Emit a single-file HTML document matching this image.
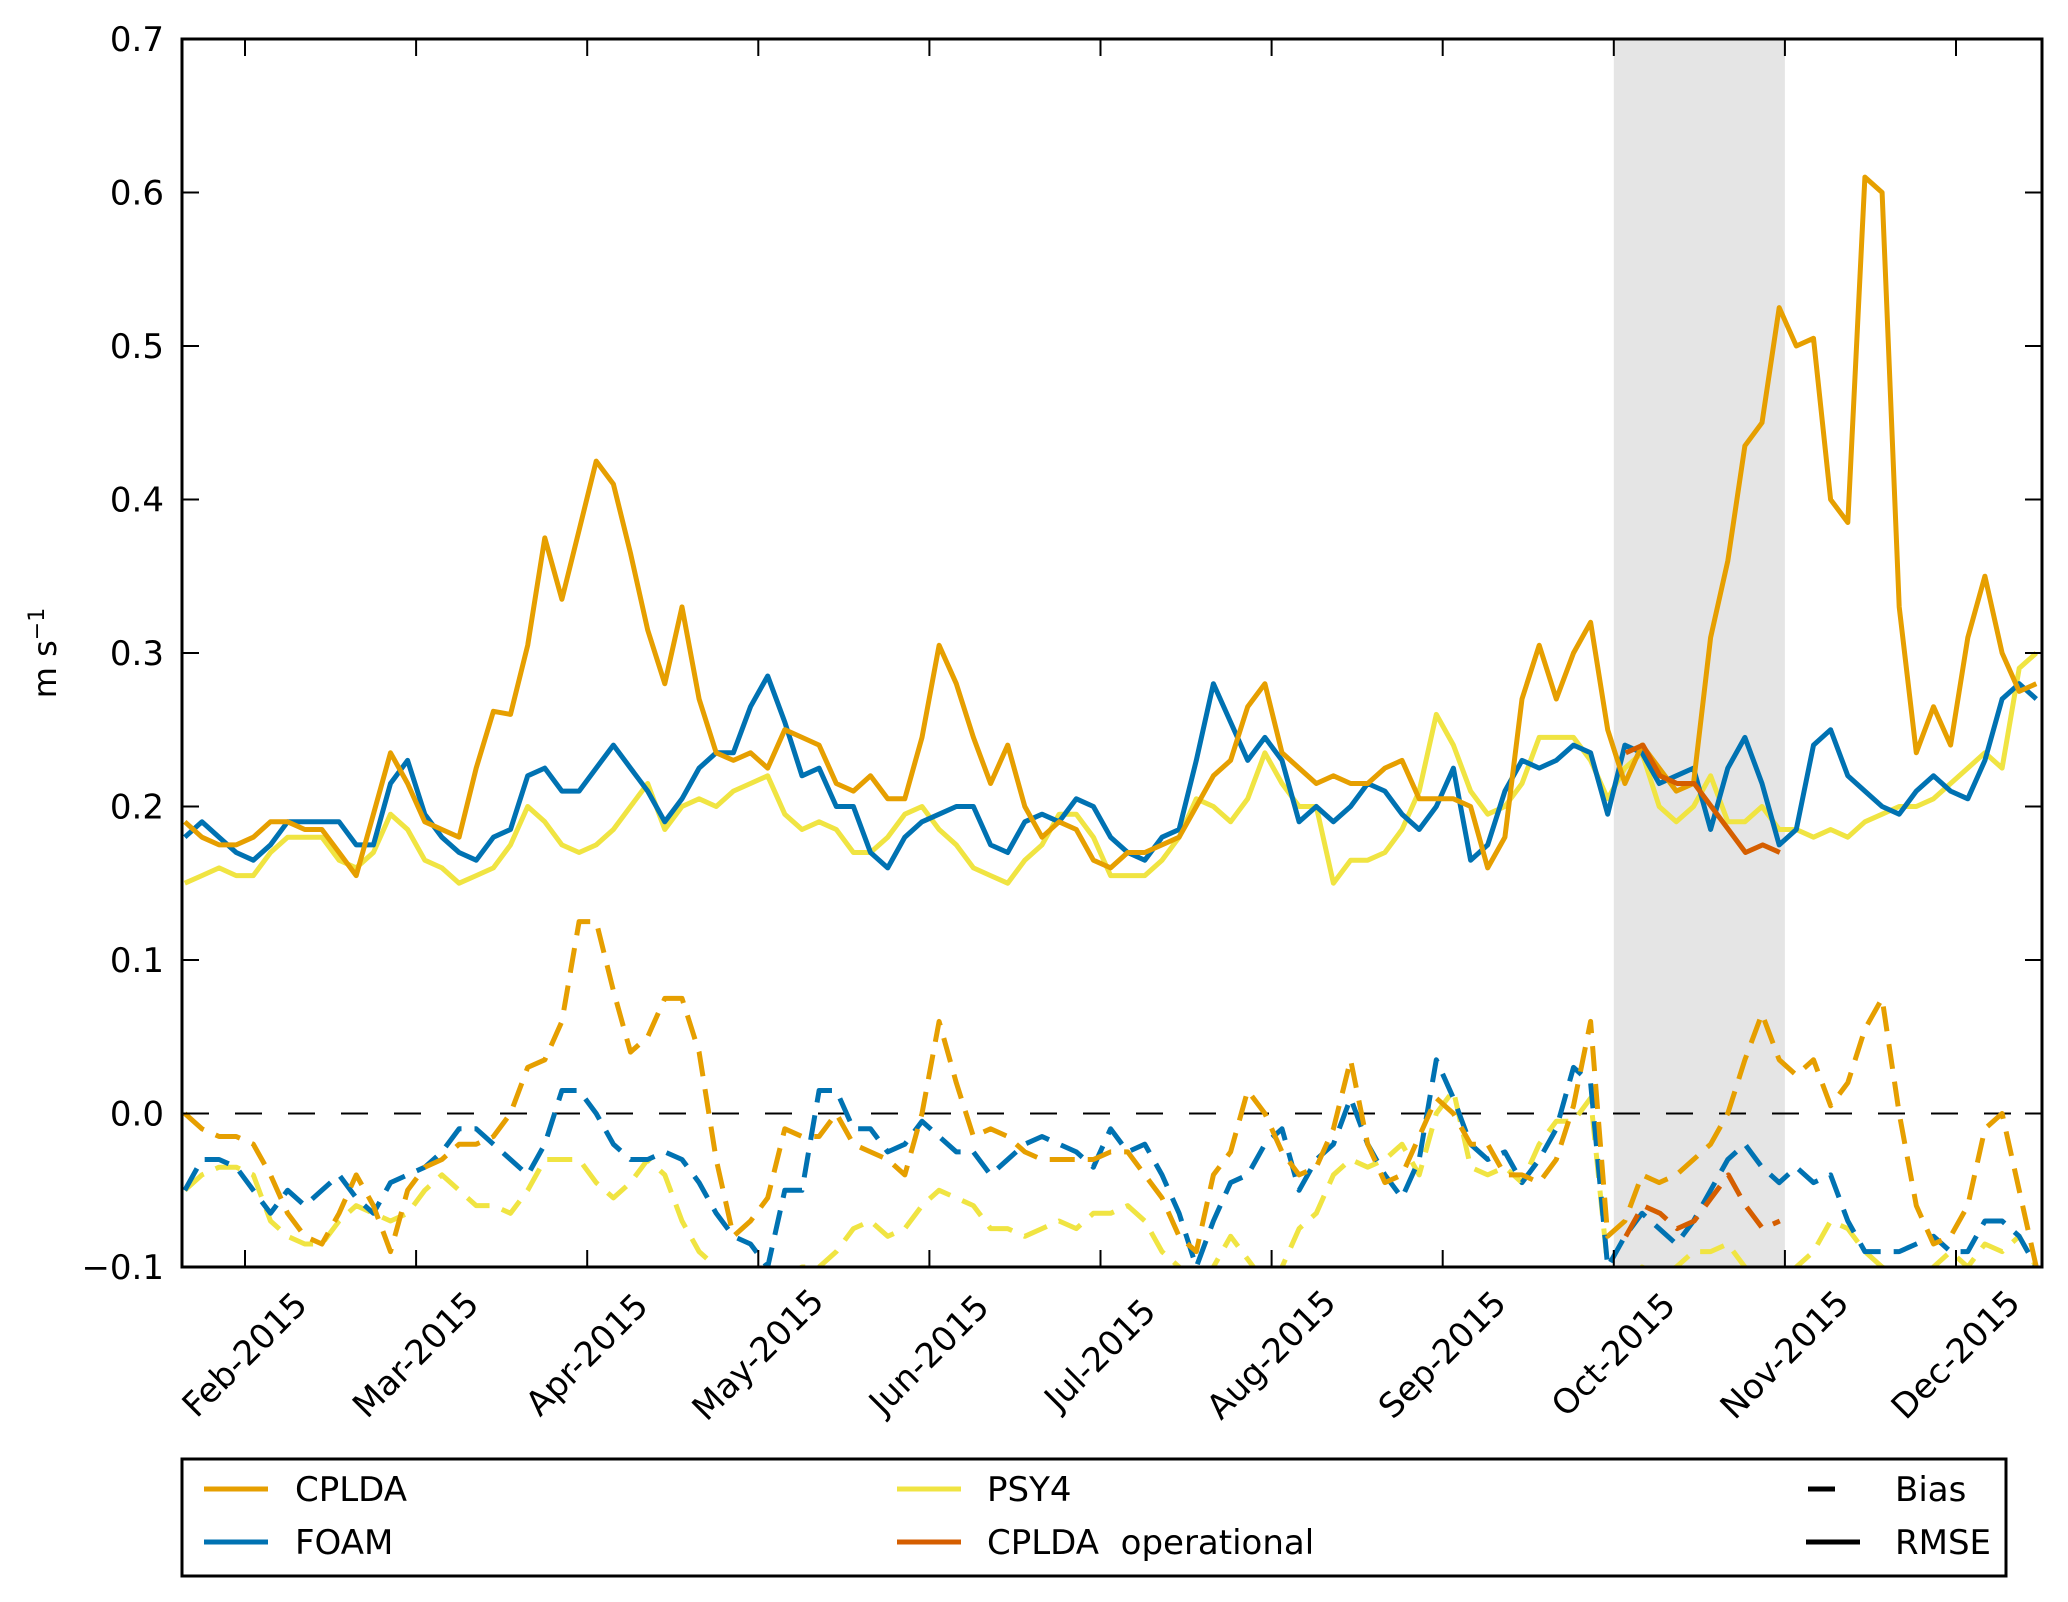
<!DOCTYPE html>
<html><head><meta charset="utf-8"><style>
html,body{margin:0;padding:0;background:#fff;}
svg{display:block;font-family:"DejaVu Sans","Liberation Sans",sans-serif;}
</style></head><body>
<svg id="chart" width="2068" height="1602" viewBox="0 0 2068 1602" xmlns="http://www.w3.org/2000/svg">
<defs><clipPath id="plotclip"><rect x="182" y="39" width="1860" height="1228"/></clipPath></defs>
<rect x="0" y="0" width="2068" height="1602" fill="#fff"/>
<g id="plot"></g>
<text transform="translate(56,653) rotate(-90)" text-anchor="middle" font-size="32">m s<tspan dy="-12" font-size="22">−1</tspan></text>
<g>
<rect x="182" y="1459" width="1824" height="117" fill="#fff" stroke="#000" stroke-width="3"/>
<line x1="204" y1="1489" x2="268" y2="1489" stroke="#E69F00" stroke-width="5"/>
<text x="295" y="1501" font-size="34">CPLDA</text>
<line x1="204" y1="1542" x2="268" y2="1542" stroke="#0072B2" stroke-width="5"/>
<text x="295" y="1554" font-size="34">FOAM</text>
<line x1="897" y1="1489" x2="961" y2="1489" stroke="#F0E442" stroke-width="5"/>
<text x="987" y="1501" font-size="34">PSY4</text>
<line x1="897" y1="1542" x2="961" y2="1542" stroke="#D55E00" stroke-width="5"/>
<text x="987" y="1554" font-size="34">CPLDA&#160; operational</text>
<line x1="1808" y1="1489" x2="1835" y2="1489" stroke="#000" stroke-width="5"/>
<text x="1895" y="1501" font-size="34">Bias</text>
<line x1="1806" y1="1542" x2="1860" y2="1542" stroke="#000" stroke-width="5"/>
<text x="1895" y="1554" font-size="34">RMSE</text>
</g>
</svg>
<script>
const monthLabels = ["Feb-2015","Mar-2015","Apr-2015","May-2015","Jun-2015","Jul-2015","Aug-2015","Sep-2015","Oct-2015","Nov-2015","Dec-2015"];
const yTicks = [-0.1,0.0,0.1,0.2,0.3,0.4,0.5,0.6,0.7];
const yTickLabels = ["\u22120.1","0.0","0.1","0.2","0.3","0.4","0.5","0.6","0.7"];
const shadeRange = [9, 10];
const cpldaRmse = [0.19,0.18,0.175,0.175,0.18,0.19,0.19,0.185,0.185,0.17,
0.155,0.195,0.235,0.215,0.19,0.185,0.18,0.225,0.262,0.26,
0.305,0.375,0.335,0.38,0.425,0.41,0.365,0.315,0.28,0.33,
0.27,0.235,0.23,0.235,0.225,0.25,0.245,0.24,0.215,0.21,
0.22,0.205,0.205,0.245,0.305,0.28,0.245,0.215,0.24,0.2,
0.18,0.19,0.185,0.165,0.16,0.17,0.17,0.175,0.18,0.2,
0.22,0.23,0.265,0.28,0.235,0.225,0.215,0.22,0.215,0.215,
0.225,0.23,0.205,0.205,0.205,0.2,0.16,0.18,0.27,0.305,
0.27,0.3,0.32,0.25,0.215,0.24,0.225,0.21,0.215,0.31,
0.36,0.435,0.45,0.525,0.5,0.505,0.40,0.385,0.61,0.60,
0.33,0.235,0.265,0.24,0.31,0.35,0.3,0.275,0.28];
const foamRmse = [0.18,0.19,0.18,0.17,0.165,0.175,0.19,0.19,0.19,0.19,
0.175,0.175,0.215,0.23,0.195,0.18,0.17,0.165,0.18,0.185,
0.22,0.225,0.21,0.21,0.225,0.24,0.225,0.21,0.19,0.205,
0.225,0.235,0.235,0.265,0.285,0.255,0.22,0.225,0.2,0.2,
0.17,0.16,0.18,0.19,0.195,0.2,0.2,0.175,0.17,0.19,
0.195,0.19,0.205,0.2,0.18,0.17,0.165,0.18,0.185,0.23,
0.28,0.255,0.23,0.245,0.23,0.19,0.2,0.19,0.2,0.215,
0.21,0.195,0.185,0.2,0.225,0.165,0.175,0.21,0.23,0.225,
0.23,0.24,0.235,0.195,0.24,0.235,0.215,0.22,0.225,0.185,
0.225,0.245,0.215,0.175,0.185,0.24,0.25,0.22,0.21,0.2,
0.195,0.21,0.22,0.21,0.205,0.23,0.27,0.28,0.27];
const psy4Rmse = [0.15,0.155,0.16,0.155,0.155,0.17,0.18,0.18,0.18,0.165,
0.16,0.17,0.195,0.185,0.165,0.16,0.15,0.155,0.16,0.175,
0.2,0.19,0.175,0.17,0.175,0.185,0.2,0.215,0.185,0.2,
0.205,0.2,0.21,0.215,0.22,0.195,0.185,0.19,0.185,0.17,
0.17,0.18,0.195,0.2,0.185,0.175,0.16,0.155,0.15,0.165,
0.175,0.195,0.195,0.18,0.155,0.155,0.155,0.165,0.18,0.205,
0.2,0.19,0.205,0.235,0.215,0.2,0.2,0.15,0.165,0.165,
0.17,0.185,0.21,0.26,0.24,0.21,0.195,0.2,0.215,0.245,
0.245,0.245,0.23,0.205,0.225,0.235,0.2,0.19,0.2,0.22,
0.19,0.19,0.2,0.185,0.185,0.18,0.185,0.18,0.19,0.195,
0.2,0.2,0.205,0.215,0.225,0.235,0.225,0.29,0.3];
const cpldaBias = [0.0,-0.01,-0.015,-0.015,-0.02,-0.04,-0.065,-0.08,-0.085,-0.065,
-0.04,-0.06,-0.09,-0.05,-0.035,-0.03,-0.02,-0.02,-0.015,0.0,
0.03,0.035,0.06,0.125,0.125,0.08,0.04,0.05,0.075,0.075,
0.04,-0.03,-0.08,-0.07,-0.055,-0.01,-0.015,-0.015,0.0,-0.02,
-0.025,-0.03,-0.04,0.0,0.06,0.02,-0.015,-0.01,-0.015,-0.025,
-0.03,-0.03,-0.03,-0.03,-0.025,-0.025,-0.04,-0.055,-0.08,-0.09,
-0.04,-0.025,0.015,0.0,-0.025,-0.04,-0.035,-0.01,0.035,-0.02,
-0.045,-0.04,-0.015,0.01,0.0,-0.02,-0.02,-0.04,-0.04,-0.045,
-0.03,0.005,0.06,-0.08,-0.07,-0.04,-0.045,-0.04,-0.03,-0.02,
0.0,0.035,0.065,0.035,0.025,0.035,0.005,0.02,0.055,0.075,
0.0,-0.06,-0.085,-0.08,-0.06,-0.01,0.0,-0.05,-0.1];
const foamBias = [-0.05,-0.03,-0.03,-0.035,-0.05,-0.065,-0.05,-0.06,-0.05,-0.04,
-0.055,-0.065,-0.045,-0.04,-0.035,-0.025,-0.01,-0.01,-0.02,-0.03,
-0.04,-0.02,0.015,0.015,0.0,-0.02,-0.03,-0.03,-0.025,-0.03,
-0.045,-0.065,-0.08,-0.085,-0.1,-0.05,-0.05,0.015,0.015,-0.01,
-0.01,-0.025,-0.02,-0.005,-0.015,-0.025,-0.025,-0.04,-0.03,-0.02,
-0.015,-0.02,-0.025,-0.035,-0.01,-0.025,-0.02,-0.04,-0.065,-0.1,
-0.07,-0.045,-0.04,-0.02,-0.01,-0.05,-0.03,-0.02,0.01,-0.02,
-0.04,-0.055,-0.03,0.035,0.01,-0.02,-0.03,-0.025,-0.045,-0.03,
-0.01,0.03,0.02,-0.1,-0.08,-0.065,-0.075,-0.085,-0.07,-0.05,
-0.03,-0.02,-0.035,-0.045,-0.035,-0.045,-0.04,-0.07,-0.09,-0.09,
-0.09,-0.085,-0.08,-0.09,-0.09,-0.07,-0.07,-0.08,-0.1];
const psy4Bias = [-0.05,-0.04,-0.035,-0.035,-0.04,-0.07,-0.08,-0.085,-0.085,-0.07,
-0.06,-0.065,-0.07,-0.065,-0.05,-0.04,-0.05,-0.06,-0.06,-0.065,
-0.05,-0.03,-0.03,-0.03,-0.045,-0.055,-0.045,-0.03,-0.04,-0.07,
-0.09,-0.1,-0.11,-0.105,-0.11,-0.105,-0.1,-0.1,-0.09,-0.075,
-0.07,-0.08,-0.075,-0.06,-0.05,-0.055,-0.06,-0.075,-0.075,-0.08,
-0.075,-0.07,-0.075,-0.065,-0.065,-0.06,-0.07,-0.09,-0.1,-0.11,
-0.1,-0.08,-0.095,-0.11,-0.1,-0.075,-0.065,-0.04,-0.03,-0.035,
-0.03,-0.02,-0.04,0.0,0.015,-0.035,-0.04,-0.035,-0.045,-0.02,
-0.005,-0.005,0.01,-0.1,-0.11,-0.1,-0.105,-0.1,-0.09,-0.09,
-0.085,-0.1,-0.11,-0.11,-0.1,-0.09,-0.07,-0.075,-0.09,-0.1,
-0.105,-0.11,-0.1,-0.09,-0.1,-0.085,-0.09,-0.08,-0.1];
const opTimes = [9.07,9.17,9.27,9.37,9.47,9.57,9.67,9.77,9.87,9.97];
const opRmse = [0.235,0.24,0.22,0.215,0.215,0.2,0.185,0.17,0.175,0.17];
const opBias = [-0.08,-0.06,-0.065,-0.075,-0.07,-0.055,-0.04,-0.06,-0.075,-0.07];
const times = [];
for (let i = 0; i < cpldaRmse.length; i++) times.push(0.648 + 0.1002 * i);

const NS = "http://www.w3.org/2000/svg";
const L = 182, R = 2042, T = 39, B = 1267;
function xScale(m) { return 245 + (m - 1) * 171.1; }
function yScale(v) { return T + (0.7 - v) / 0.8 * (B - T); }
const plot = document.getElementById('plot');
function mk(tag, attrs, parent) {
  const e = document.createElementNS(NS, tag);
  for (const k in attrs) e.setAttribute(k, attrs[k]);
  (parent || plot).appendChild(e);
  return e;
}
const sh = mk('rect', {x: xScale(shadeRange[0]), y: T, width: xScale(shadeRange[1]) - xScale(shadeRange[0]), height: B - T, fill: '#e5e5e5'});


const z = mk('line', {x1: L, x2: R, y1: yScale(0), y2: yScale(0), stroke: '#000', 'stroke-width': 2, 'stroke-dasharray': '27 26'});


const series = mk('g', {'clip-path': 'url(#plotclip)'});


function drawLine(xs, vs, color, dashed, name) {
  const d = vs.map((v, i) => (i ? 'L' : 'M') + xScale(xs[i]).toFixed(1) + ' ' + yScale(v).toFixed(1)).join(' ');
  const p = mk('path', {d: d, fill: 'none', stroke: color, 'stroke-width': 5, 'stroke-linejoin': 'round'}, series);
  if (dashed) p.setAttribute('stroke-dasharray', '25 13');
  
  
}
drawLine(times, psy4Bias, '#F0E442', true, 'psy4-bias-line');
drawLine(times, foamBias, '#0072B2', true, 'foam-bias-line');
drawLine(times, cpldaBias, '#E69F00', true, 'cplda-bias-line');
drawLine(opTimes, opBias, '#D55E00', true, 'cplda-operational-bias-line');
drawLine(times, psy4Rmse, '#F0E442', false, 'psy4-rmse-line');
drawLine(times, foamRmse, '#0072B2', false, 'foam-rmse-line');
drawLine(times, cpldaRmse, '#E69F00', false, 'cplda-rmse-line');
drawLine(opTimes, opRmse, '#D55E00', false, 'cplda-operational-rmse-line');
yTicks.forEach((v, i) => {
  const y = yScale(v);
  const tl = mk('line', {x1: L, x2: L + 17, y1: y, y2: y, stroke: '#000', 'stroke-width': 2});
  
  
  const tr = mk('line', {x1: R - 17, x2: R, y1: y, y2: y, stroke: '#000', 'stroke-width': 2});
  
  
  const t = mk('text', {x: 164, y: y + 12, 'text-anchor': 'end', 'font-size': 34});
  t.textContent = yTickLabels[i];
  
  
});
monthLabels.forEach((lab, i) => {
  const x = xScale(i + 1);
  const tb = mk('line', {x1: x, x2: x, y1: B, y2: B - 17, stroke: '#000', 'stroke-width': 2});
  
  
  const tt = mk('line', {x1: x, x2: x, y1: T, y2: T + 17, stroke: '#000', 'stroke-width': 2});
  
  
  const t = mk('text', {x: x, y: 1355, 'text-anchor': 'middle', 'dominant-baseline': 'central', 'font-size': 34, transform: 'rotate(-45 ' + x + ' 1355)'});
  t.textContent = lab;
  
  
});
const fr = mk('rect', {x: L, y: T, width: R - L, height: B - T, fill: 'none', stroke: '#000', 'stroke-width': 3});


</script>
</body></html>
